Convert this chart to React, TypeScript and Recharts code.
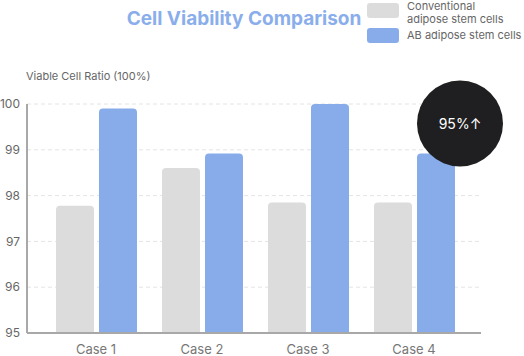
import { BarChart, Bar, XAxis, YAxis, CartesianGrid } from "recharts";

const CASES = ["Case 1", "Case 2", "Case 3", "Case 4"];
const CONVENTIONAL = [97.78, 98.6, 97.85, 97.85];
const AB = [99.9, 98.92, 100, 98.92];
const Y_TICKS = [95, 96, 97, 98, 99, 100];
const BADGE_TEXT = "95%↑";
const BADGE_INDEX = 3;

const GRAY = "#dcdcdc";
const BLUE = "#88acea";
const FONT = "Inter, 'Noto Sans', sans-serif";

const data = CASES.map((name, i) => ({ name, conventional: CONVENTIONAL[i], ab: AB[i] }));

function Badge(props: any) {
  const { x, y, width, index } = props;
  if (index !== BADGE_INDEX) return null;
  const cx = x + width + 5;
  const cy = y - 30;
  return (
    <g>
      <circle cx={cx} cy={cy} r={43} fill="#1f1f21" />
      <text x={cx} y={cy} textAnchor="middle" dominantBaseline="central" fill="#fff" fontSize={14} fontFamily={FONT}>
        {BADGE_TEXT}
      </text>
    </g>
  );
}

const legendText = { position: "absolute" as const, left: 407, fontSize: 11, lineHeight: "13px", color: "#666", whiteSpace: "nowrap" as const };

export default function App() {
  return (
    <div style={{ position: "absolute", left: 0, top: 0, width: 524, height: 356, fontFamily: FONT, background: "#fff" }}>
      <div
        style={{
          position: "absolute",
          left: 104,
          top: 7,
          width: 280,
          textAlign: "center",
          whiteSpace: "nowrap",
          fontSize: 19,
          fontWeight: 700,
          color: "#8aaeeb",
        }}
      >
        Cell Viability Comparison
      </div>
      <div style={{ position: "absolute", left: 367, top: 3, width: 32, height: 15, borderRadius: 3, background: GRAY }} />
      <div style={{ ...legendText, top: 0 }}>Conventional</div>
      <div style={{ ...legendText, top: 13 }}>adipose stem cells</div>
      <div style={{ position: "absolute", left: 367, top: 28, width: 32, height: 15, borderRadius: 3, background: BLUE }} />
      <div style={{ ...legendText, top: 29 }}>AB adipose stem cells</div>
      <div style={{ position: "absolute", left: 26, top: 69, fontSize: 11, color: "#666" }}>Viable Cell Ratio (100%)</div>
      <div style={{ position: "absolute", left: 0, top: 0 }}>
        <BarChart
          width={524}
          height={356}
          data={data}
          margin={{ top: 104, right: 43, bottom: 0, left: 0 }}
          barGap={5}
          barSize={38}
        >
          <CartesianGrid stroke="#e4e4e4" strokeDasharray="4 3" vertical={false} />
          <XAxis
            dataKey="name"
            height={23}
            padding={{ left: 16, right: 14 }}
            axisLine={{ stroke: "#a8a8a8", strokeWidth: 2 }}
            tickLine={false}
            tickSize={4}
            tickMargin={8}
            tick={{ fontSize: 13, fill: "#777" }}
          />
          <YAxis
            width={27}
            domain={[95, 100]}
            ticks={Y_TICKS}
            allowDataOverflow
            axisLine={{ stroke: "#a8a8a8", strokeWidth: 2 }}
            tickLine={false}
            tickSize={5}
            tickMargin={2}
            tick={{ fontSize: 12, fill: "#666" }}
          />
          <Bar dataKey="conventional" fill={GRAY} radius={[4, 4, 0, 0]} isAnimationActive={false} />
          <Bar dataKey="ab" fill={BLUE} radius={[4, 4, 0, 0]} isAnimationActive={false} label={<Badge />} />
        </BarChart>
      </div>
    </div>
  );
}
